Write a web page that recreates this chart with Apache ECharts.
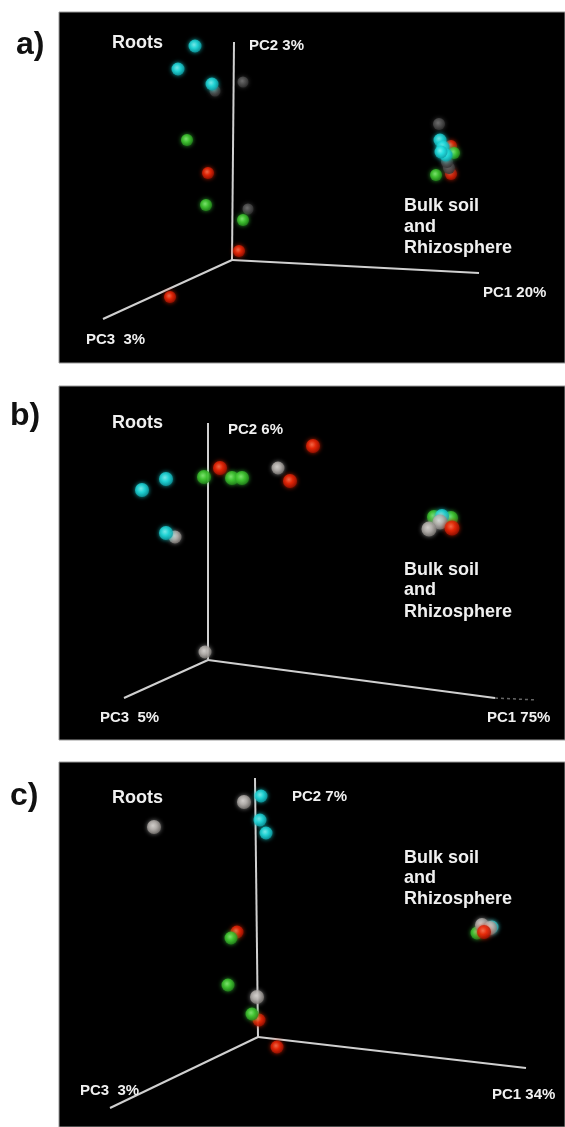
<!DOCTYPE html>
<html><head><meta charset="utf-8">
<script src="https://cdn.jsdelivr.net/npm/echarts@6/dist/echarts.min.js"></script>
<style>html,body{margin:0;padding:0;background:#fff}#c{width:565px;height:1127px}</style>
</head><body><div id="c"></div>
<script>
// Projected PCoA coordinates (origin = intersection of the three axes, y pointing up)
// ---- panel a)
const aAxisEnds = [[247,-13],[2,218],[-129,-59]];      // PC1, PC2, PC3 axis tips
const aAxisNames = ['PC1 20%','PC2 3%','PC3  3%'];
const aRootsGray  = [[-17,169],[11,178],[16,51]];
const aRootsRed   = [[-24,87],[7,9],[-62,-37]];
const aRootsGreen = [[-45,120],[-26,55],[11,40]];
const aRootsCyan  = [[-37,214],[-54,191],[-20,176]];
const aBulkRed    = [[219,114],[219,86]];
const aBulkGray   = [[207,136],[217,92],[215,98]];
const aBulkGreen  = [[222,107],[204,85]];
const aBulkCyan   = [[208,120],[211,113],[214,105],[209,108]];
// ---- panel b)
const bAxisEnds = [[287,-38],[0,237],[-84,-38]];
const bAxisNames = ['PC1 75%','PC2 6%','PC3  5%'];
const bRootsGray  = [[-33,123],[70,192],[-3,8]];
const bRootsGreen = [[-4,183],[24,182],[34,182]];
const bRootsRed   = [[12,192],[105,214],[82,179]];
const bRootsCyan  = [[-66,170],[-42,181],[-42,127]];
const bBulkGreen  = [[226,143],[243,142]];
const bBulkCyan   = [[234,144]];
const bBulkGray   = [[232,138],[221,131]];
const bBulkRed    = [[244,132]];
// ---- panel c)
const cAxisEnds = [[268,-31],[-3,259],[-148,-71]];
const cAxisNames = ['PC1 34%','PC2 7%','PC3  3%'];
const cRootsGray  = [[-14,235],[-104,210],[-1,40]];
const cRootsRed   = [[-21,105],[1,17],[19,-10]];
const cRootsGreen = [[-27,99],[-30,52],[-6,23]];
const cRootsCyan  = [[3,241],[2,217],[8,204]];
const cBulkGreen  = [[219,104]];
const cBulkCyan   = [[234,110]];
const cBulkGray   = [[224,112],[232,109]];
const cBulkRed    = [[226,105]];
const panelTags = ['a)','b)','c)'];
const groupText = ['Roots','Bulk soil','and','Rhizosphere'];

const FONT = '"Liberation Sans", Arial, sans-serif';
function grad(c0,c1,c2){return {type:'radial',x:0.42,y:0.4,r:0.62,colorStops:[{offset:0,color:c0},{offset:0.45,color:c1},{offset:1,color:c2}]};}
const COL = {
  cyan:  grad('#8ff8f8','#25e0e2','#0b98a0'),
  green: grad('#90f47e','#46cf34','#218518'),
  red:   grad('#ff7a58','#f02808','#9a0e00'),
  gray:  grad('#e6e2de','#bfbab6','#77736f'),
  dgray: grad('#7c7c7c','#575757','#303030')
};
const GLOW = {cyan:'#1cc',green:'#3b3',red:'#d20',gray:'#999',dgray:'#444'};

const chart = echarts.init(document.getElementById('c'), null, {renderer:'canvas'});
const grids = [
  {left:59, top:12,  width:506, height:351, x:[-173,333], y:[-103,248]},
  {left:59, top:386, width:506, height:354, x:[-149,357], y:[-80,274]},
  {left:59, top:762, width:506, height:365, x:[-199,307], y:[-90,275]}
];
const series = [];
function axisSeries(gi, ends){
  ends.forEach(e=>series.push({type:'line',xAxisIndex:gi,yAxisIndex:gi,data:[[0,0],e],symbol:'none',silent:true,
    lineStyle:{color:'#d0d0d0',width:2},z:2}));
}
function sph(gi, data, key, size){
  series.push({type:'scatter',xAxisIndex:gi,yAxisIndex:gi,data:data,symbol:'circle',symbolSize:size,silent:true,
    itemStyle:{color:COL[key],shadowBlur:4,shadowColor:GLOW[key]},z:3});
}
axisSeries(0,aAxisEnds); axisSeries(1,bAxisEnds); axisSeries(2,cAxisEnds);
// faint dotted extension of PC1 in panel b
series.push({type:'line',xAxisIndex:1,yAxisIndex:1,data:[bAxisEnds[0],[bAxisEnds[0][0]+42,bAxisEnds[0][1]-2]],symbol:'none',silent:true,
  lineStyle:{color:'#666',width:1.5,type:[3,3]},z:2});
// panel a
sph(0,aRootsGray,'dgray',11); sph(0,aRootsRed,'red',12); sph(0,aRootsGreen,'green',12); sph(0,aRootsCyan,'cyan',13);
sph(0,aBulkRed,'red',12); sph(0,aBulkGray,'dgray',12); sph(0,aBulkGreen,'green',12); sph(0,aBulkCyan,'cyan',13);
// panel b
sph(1,bRootsGray,'gray',13); sph(1,bRootsGreen,'green',14); sph(1,bRootsRed,'red',14); sph(1,bRootsCyan,'cyan',14);
sph(1,bBulkGreen,'green',14); sph(1,bBulkCyan,'cyan',14); sph(1,bBulkGray,'gray',15); sph(1,bBulkRed,'red',15);
// panel c
sph(2,cRootsGray,'gray',14); sph(2,cRootsRed,'red',13); sph(2,cRootsGreen,'green',13); sph(2,cRootsCyan,'cyan',13);
sph(2,cBulkGreen,'green',13); sph(2,cBulkCyan,'cyan',13); sph(2,cBulkGray,'gray',14); sph(2,cBulkRed,'red',14);

function txt(s,x,y,size,color){return {type:'text',silent:true,z:10,style:{text:s,x:x,y:y,fill:color||'#f0f0f0',
  font:'bold '+size+'px '+FONT,textAlign:'left',textVerticalAlign:'middle'}};}
const graphic = [
  txt(panelTags[0],16,45,32,'#111'), txt(panelTags[1],10,416,32,'#111'), txt(panelTags[2],10,796,32,'#111'),
  // a
  txt(groupText[0],112,43.5,18), txt(aAxisNames[1],249,46,15), txt(aAxisNames[0],483,292.5,15), txt(aAxisNames[2],86,340,15),
  txt(groupText[1],404,206.5,18), txt(groupText[2],404,227,18), txt(groupText[3],404,248.5,18),
  // b
  txt(groupText[0],112,423.5,18), txt(bAxisNames[1],228,430,15), txt(bAxisNames[0],487,717.5,15), txt(bAxisNames[2],100,717.5,15),
  txt(groupText[1],404,570,18), txt(groupText[2],404,590.5,18), txt(groupText[3],404,612,18),
  // c
  txt(groupText[0],112,798.5,18), txt(cAxisNames[1],292,797,15), txt(cAxisNames[0],492,1095,15), txt(cAxisNames[2],80,1091,15),
  txt(groupText[1],404,858.5,18), txt(groupText[2],404,878,18), txt(groupText[3],404,899.5,18)
];

chart.setOption({
  animation:false,
  backgroundColor:'#ffffff',
  grid: grids.map(g=>({left:g.left,top:g.top,width:g.width,height:g.height,show:true,backgroundColor:'#000',borderColor:'#9a9a9a',borderWidth:1})),
  xAxis: grids.map((g,i)=>({type:'value',gridIndex:i,min:g.x[0],max:g.x[1],show:false})),
  yAxis: grids.map((g,i)=>({type:'value',gridIndex:i,min:g.y[0],max:g.y[1],show:false})),
  series: series,
  graphic: graphic
});
</script></body></html>
